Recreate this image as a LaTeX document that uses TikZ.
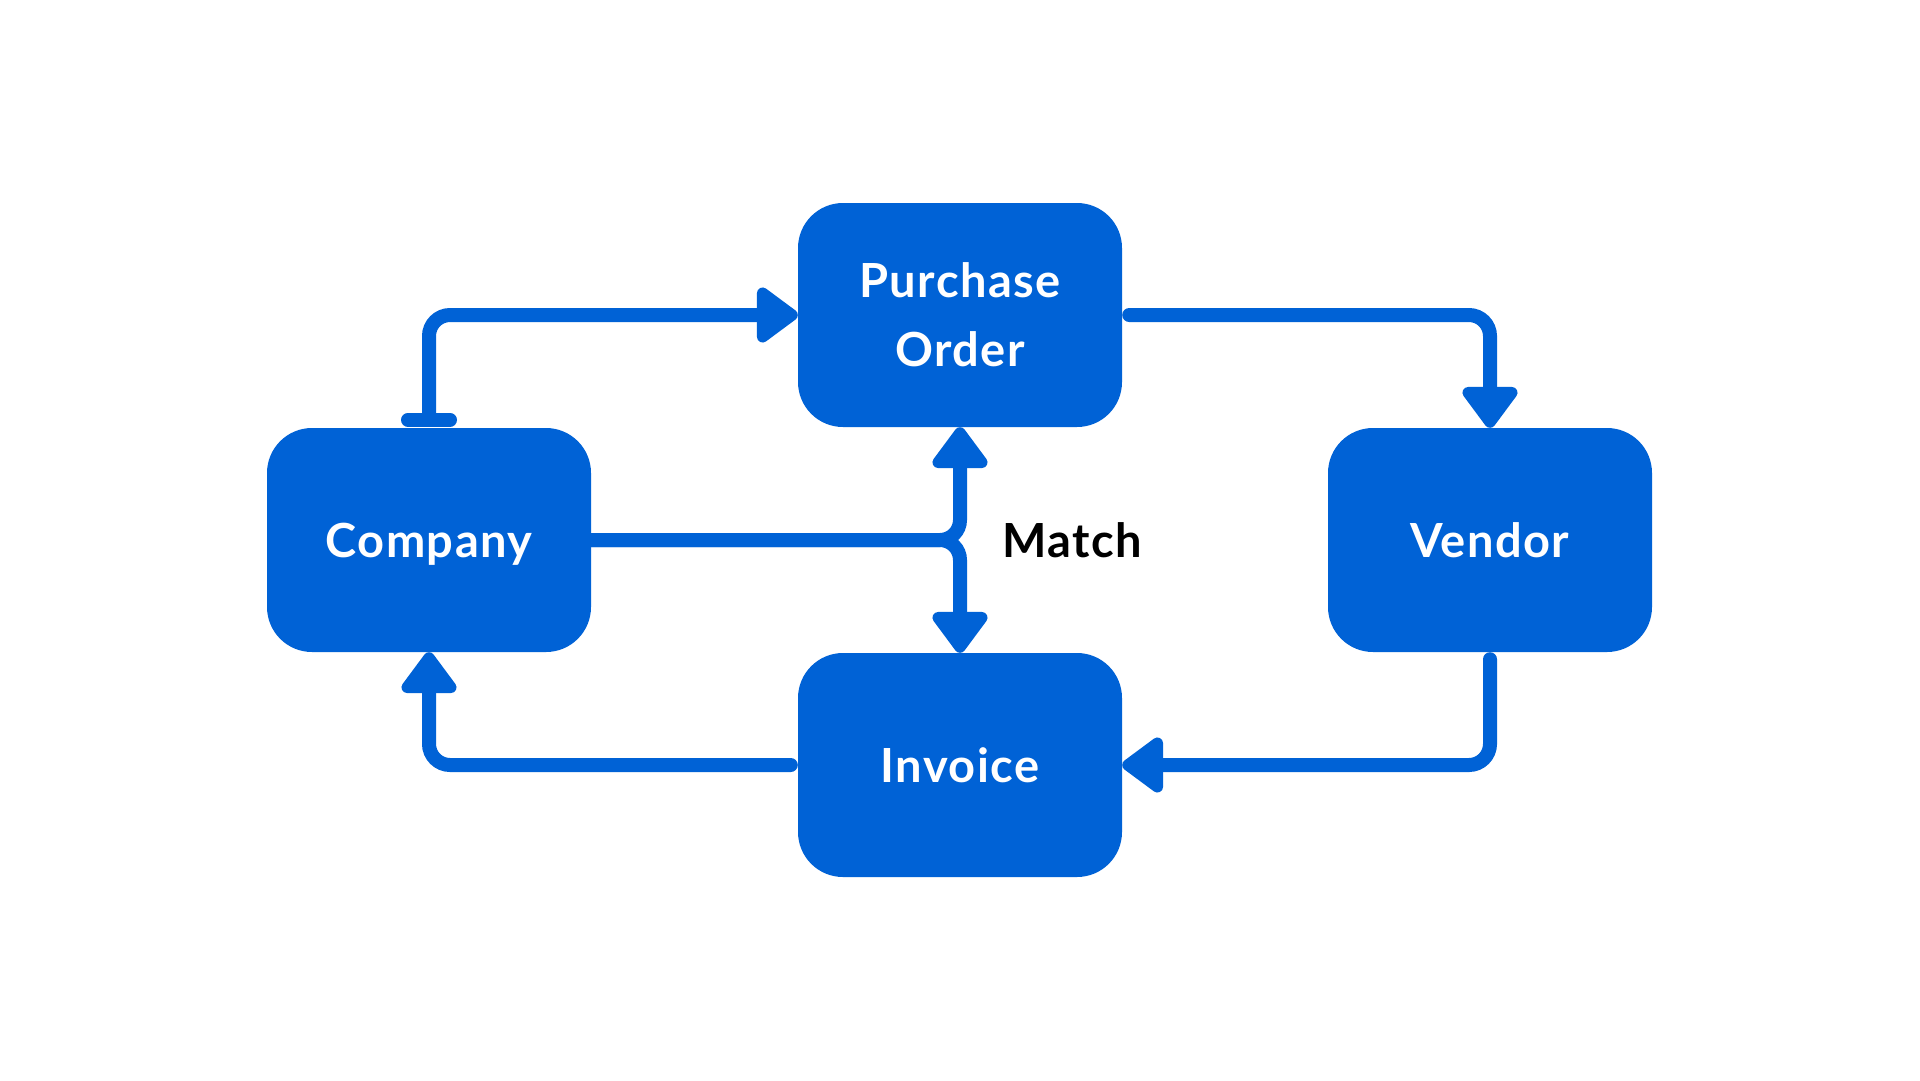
\documentclass[tikz,border=0pt]{standalone}
\usepackage{fontspec}
\setmainfont{Lato}[LetterSpace=3]
\usetikzlibrary{arrows.meta,calc}
\definecolor{boxblue}{HTML}{0062D6}
\begin{document}
\begin{tikzpicture}[x=1pt,y=-1pt,
  box/.style={fill=boxblue, rounded corners=45pt, minimum width=324pt, minimum height=224pt, inner sep=0pt, text=white, font=\fontsize{47}{69}\selectfont\bfseries, align=center},
  one/.style={text height=34pt, text depth=0pt},
  conn/.style={draw=boxblue, line width=14pt, rounded corners=21pt, line cap=round},
  tip/.style={-{Triangle[width=63pt,length=45pt,round]}},
  lbl/.style={text=black, font=\fontsize{47}{56}\selectfont\bfseries, text height=34pt, text depth=0pt, inner sep=0pt}
]
\fill[white] (0,0) rectangle (1920,1080);
\useasboundingbox (0,0) rectangle (1920,1080);

\node[box] (po) at (960,315) {Purchase\\Order};
\node[box, one] (company) at (429,540) {Company};
\node[box, one] (vendor) at (1490,540) {Vendor};
\node[box, one] (invoice) at (960,765) {Invoice};

\node[lbl] (match) at (1072,540) {Match};

\coordinate (cstart) at ($(company.north)+(0,-8)$);
\draw[conn, tip] (cstart) |- (po.west);
\draw[conn] ($(cstart)+(-21,0)$) -- ($(cstart)+(21,0)$);

\draw[conn, tip] ($(po.east)+(7,0)$) -| (vendor.north);
\draw[conn, tip] ($(vendor.south)+(0,7)$) |- (invoice.east);
\draw[conn, tip] ($(invoice.west)+(-7,0)$) -| (company.south);

\draw[conn, tip, rounded corners=20pt] (company.east) -| (po.south);
\draw[conn, tip, rounded corners=20pt] (company.east) -| (invoice.north);
\end{tikzpicture}
\end{document}
